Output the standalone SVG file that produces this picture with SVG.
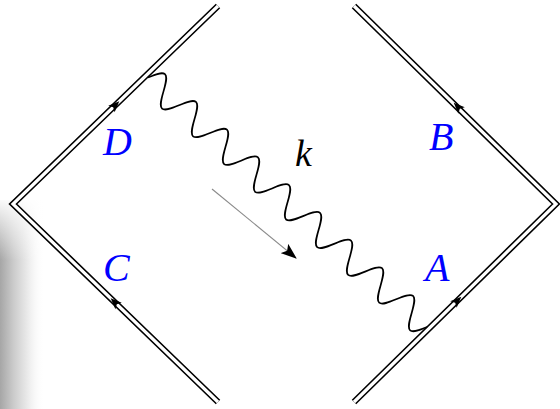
<svg xmlns="http://www.w3.org/2000/svg" width="560" height="409" viewBox="0 0 560 409">
  <defs>
    <style>
      .dbl-out { fill: none; stroke: #000; stroke-width: 6.4; stroke-linejoin: miter; stroke-linecap: butt; }
      .dbl-in { fill: none; stroke: #fff; stroke-width: 3.2; stroke-linejoin: miter; stroke-linecap: butt; }
      .lbl { font-family: "Liberation Serif", "DejaVu Serif", serif; font-style: italic; font-size: 40px; fill: #0000ff; }
      .klbl { font-family: "Liberation Serif", "DejaVu Serif", serif; font-style: italic; font-size: 38px; fill: #000; }
      .photon { fill: none; stroke: #000; stroke-width: 1.7; }
      .mom { fill: none; stroke: #8a8a8a; stroke-width: 1.1; }
    </style>
    <path id="farrow" d="M6,0 L-5,-4.6 L-2.5,0 L-5,4.6 Z" fill="#000"/>
    <marker id="kh" viewBox="0 0 16 12" refX="15" refY="6" markerWidth="16" markerHeight="12" markerUnits="userSpaceOnUse" orient="auto">
      <path d="M16,6 L0,0 L3.5,6 L0,12 Z" fill="#000"/>
    </marker>
    <linearGradient id="shadeH" x1="0" y1="0" x2="1" y2="0">
      <stop offset="0" stop-color="#a6a6a6"/>
      <stop offset="0.3" stop-color="#cbcbcb"/>
      <stop offset="0.65" stop-color="#eeeeee"/>
      <stop offset="1" stop-color="#ffffff" stop-opacity="0"/>
    </linearGradient>
    <linearGradient id="fadeV" x1="0" y1="0" x2="0" y2="1">
      <stop offset="0" stop-color="#fff" stop-opacity="1"/>
      <stop offset="1" stop-color="#fff" stop-opacity="0"/>
    </linearGradient>
  </defs>

  <rect x="0" y="0" width="560" height="409" fill="#fff"/>
  <g id="shadow">
    <rect x="0" y="200" width="45" height="209" fill="url(#shadeH)"/>
    <rect x="0" y="196" width="46" height="64" fill="url(#fadeV)"/>
  </g>

  <g id="left-fermion">
    <polyline class="dbl-out" points="218,6 13,204 218,402"/>
    <polyline class="dbl-in" points="218,6 13,204 218,402"/>
  </g>
  <g id="right-fermion">
    <polyline class="dbl-out" points="354,6 556,204 354,402"/>
    <polyline class="dbl-in" points="354,6 556,204 354,402"/>
  </g>

  <g id="connectors">
    <use href="#farrow" transform="translate(115,105.5) rotate(-44)"/>
    <use href="#farrow" transform="translate(115,302.5) rotate(-136)"/>
    <use href="#farrow" transform="translate(458,107) rotate(-135.6)"/>
    <use href="#farrow" transform="translate(457,301) rotate(-44.4)"/>
    <path id="photon" class="photon" transform="translate(148,77.5) rotate(41.8)" d="M0,0 c3.39,-7.07 6.63,-13.8 10.4,-13.8 s7.01,6.73 10.4,13.8 s6.63,13.8 10.4,13.8 s7.01,-6.73 10.4,-13.8 s6.63,-13.8 10.4,-13.8 s7.01,6.73 10.4,13.8 s6.63,13.8 10.4,13.8 s7.01,-6.73 10.4,-13.8 s6.63,-13.8 10.4,-13.8 s7.01,6.73 10.4,13.8 s6.63,13.8 10.4,13.8 s7.01,-6.73 10.4,-13.8 s6.63,-13.8 10.4,-13.8 s7.01,6.73 10.4,13.8 s6.63,13.8 10.4,13.8 s7.01,-6.73 10.4,-13.8 s6.63,-13.8 10.4,-13.8 s7.01,6.73 10.4,13.8 s6.63,13.8 10.4,13.8 s7.01,-6.73 10.4,-13.8 s6.63,-13.8 10.4,-13.8 s7.01,6.73 10.4,13.8 s6.63,13.8 10.4,13.8 s7.01,-6.73 10.4,-13.8 s6.63,-13.8 10.4,-13.8 s7.01,6.73 10.4,13.8 s6.63,13.8 10.4,13.8 s7.01,-6.73 10.4,-13.8 s6.63,-13.8 10.4,-13.8 s7.01,6.73 10.4,13.8 s6.63,13.8 10.4,13.8 s7.01,-6.73 10.4,-13.8 s6.63,-13.8 10.4,-13.8 s7.01,6.73 10.4,13.8 s6.63,13.8 10.4,13.8 s7.01,-6.73 10.4,-13.8"/>
    <line id="momentum" class="mom" x1="212" y1="189" x2="296" y2="258" marker-end="url(#kh)"/>
  </g>

  <g id="labels">
    <text class="lbl" x="103" y="155">D</text>
    <text class="lbl" x="429" y="150">B</text>
    <text class="lbl" x="103" y="281">C</text>
    <text class="lbl" x="425" y="281">A</text>
    <text class="klbl" x="295" y="166">k</text>
  </g>
</svg>
